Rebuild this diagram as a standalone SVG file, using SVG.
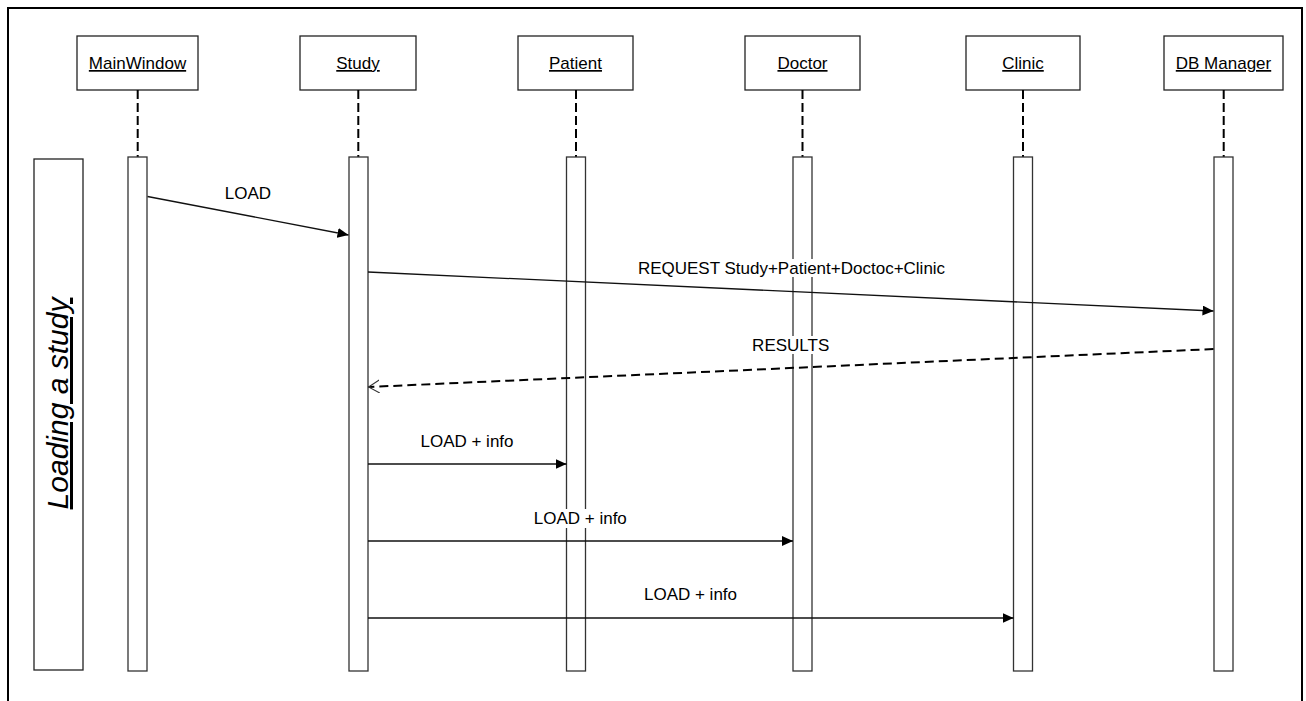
<svg xmlns="http://www.w3.org/2000/svg" width="1306" height="701" viewBox="0 0 1306 701">
<style>
.box{fill:#fff;stroke:#222;stroke-width:1.3}
.bar{fill:#fff;stroke:#333;stroke-width:1.3}
.life{stroke:#000;stroke-width:2;stroke-dasharray:9 4;fill:none}
.msg{stroke:#111;stroke-width:1.3;fill:none}
.ret{stroke:#000;stroke-width:2;stroke-dasharray:9 5;fill:none}
.t{font-family:"Liberation Sans",Arial,sans-serif;font-size:17px;fill:#000;text-anchor:middle}
.u{text-decoration:underline}
.bg{fill:#fff}
</style>
<defs>
<marker id="fill" markerUnits="userSpaceOnUse" markerWidth="13" markerHeight="11" refX="11" refY="5" orient="auto">
<path d="M0,0 L11,5 L0,10 z" fill="#000"/>
</marker>
<marker id="open" markerUnits="userSpaceOnUse" markerWidth="14" markerHeight="14" refX="11" refY="6.5" orient="auto">
<path d="M0,0 L11,6.5 L0,13" fill="none" stroke="#333" stroke-width="1"/>
</marker>
</defs>
<rect width="1306" height="701" fill="#fff"/>
<path d="M8,720 V8 H1302 V720" fill="none" stroke="#000" stroke-width="2"/>

<g id="fragment">
<rect class="box" x="34" y="159" width="49" height="511"/>
<text class="t u" transform="translate(68,403.5) rotate(-90)" style="font-size:30px;font-style:italic">Loading a study</text>
</g>

<g id="MainWindow">
<rect class="box" x="77" y="36" width="121" height="54"/>
<text class="t u" x="137.5" y="69">MainWindow</text>
<line class="life" x1="137.7" y1="90" x2="137.7" y2="157"/>
<rect class="bar" x="128" y="157" width="19" height="514"/>
</g>
<g id="Study">
<rect class="box" x="300" y="36" width="116" height="54"/>
<text class="t u" x="358" y="69">Study</text>
<line class="life" x1="358.3" y1="90" x2="358.3" y2="157"/>
<rect class="bar" x="349" y="157" width="19" height="514"/>
</g>
<g id="Patient">
<rect class="box" x="518" y="36" width="115" height="54"/>
<text class="t u" x="575.5" y="69">Patient</text>
<line class="life" x1="576" y1="90" x2="576" y2="157"/>
<rect class="bar" x="566.5" y="157" width="19" height="514"/>
</g>
<g id="Doctor">
<rect class="box" x="745" y="36" width="115" height="54"/>
<text class="t u" x="802.5" y="69">Doctor</text>
<line class="life" x1="802.5" y1="90" x2="802.5" y2="157"/>
<rect class="bar" x="793" y="157" width="19" height="514"/>
</g>
<g id="Clinic">
<rect class="box" x="966" y="36" width="114" height="54"/>
<text class="t u" x="1023" y="69">Clinic</text>
<line class="life" x1="1023" y1="90" x2="1023" y2="157"/>
<rect class="bar" x="1013.5" y="157" width="19" height="514"/>
</g>
<g id="DBManager">
<rect class="box" x="1164" y="36" width="119" height="54"/>
<text class="t u" x="1223.5" y="69">DB Manager</text>
<line class="life" x1="1223.7" y1="90" x2="1223.7" y2="157"/>
<rect class="bar" x="1214" y="157" width="19" height="514"/>
</g>

<g id="connectors">
<line class="msg" x1="147.5" y1="196.5" x2="348.5" y2="235" marker-end="url(#fill)"/>
<line class="msg" x1="368" y1="272" x2="1213.5" y2="311" marker-end="url(#fill)"/>
<line class="ret" x1="1213.5" y1="349" x2="368.5" y2="387" marker-end="url(#open)"/>
<line class="msg" x1="368" y1="464" x2="566.5" y2="464" marker-end="url(#fill)"/>
<line class="msg" x1="368" y1="541" x2="793" y2="541" marker-end="url(#fill)"/>
<line class="msg" x1="368" y1="618" x2="1013.5" y2="618" marker-end="url(#fill)"/>
</g>

<g id="labels">
<text class="t" x="248" y="199">LOAD</text>
<rect class="bg" x="636" y="259" width="311" height="18"/>
<text class="t" x="791.5" y="274">REQUEST Study+Patient+Doctoc+Clinic</text>
<rect class="bg" x="752" y="336" width="78" height="18"/>
<text class="t" x="790.7" y="351">RESULTS</text>
<text class="t" x="467" y="447">LOAD + info</text>
<rect class="bg" x="533" y="509" width="95" height="19"/>
<text class="t" x="580.3" y="524">LOAD + info</text>
<text class="t" x="690.5" y="600">LOAD + info</text>
</g>
</svg>
